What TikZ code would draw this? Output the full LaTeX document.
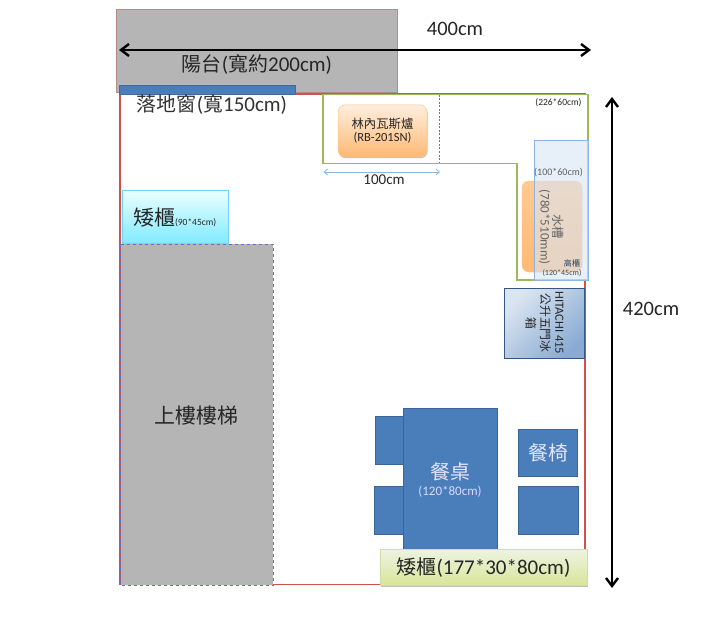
\documentclass[tikz,border=0pt]{standalone}
\usepackage{fontspec}
\setmainfont{Carlito}
\newfontfamily\cjk{Noto Sans CJK TC}[Scale=0.95]
\usetikzlibrary{arrows.meta,shadows}
\definecolor{roomred}{HTML}{D0504D}
\definecolor{cgreen}{HTML}{9BBB59}
\definecolor{wblue}{HTML}{4A7EBB}
\definecolor{lblue}{HTML}{8DB4E2}
\definecolor{txt}{HTML}{262626}
\tikzset{
  x=1pt,y=-1pt,
  lbl/.style={inner sep=0pt,text=txt,align=center},
  fs/.style={font=\fontsize{#1}{#1}\selectfont},
  bluebox/.style={fill=wblue,draw=wblue!80!black,line width=.6pt},
  grayblock/.style={fill=black!29},
  dimarrow/.style={line width=2.8pt,black,{Straight Barb[length=8pt,width=12pt,line width=2.4pt]}-{Straight Barb[length=8pt,width=12pt,line width=2.4pt]}},
  smallarrow/.style={line width=.8pt,lblue,{Straight Barb[length=3.5pt,width=6pt]}-{Straight Barb[length=3.5pt,width=6pt]}},
  softshadow/.style={drop shadow={shadow xshift=.6pt,shadow yshift=-1.2pt,opacity=.25,fill=black}},
  orangebox/.style={rounded corners=7pt,draw=orange!45!white,line width=.5pt,top color=orange!13!white,bottom color=orange!55!white,softshadow},
}
\begin{document}
\begin{tikzpicture}
\useasboundingbox (0,0) rectangle (720,623);
\fill[white] (0,0) rectangle (720,623);
% balcony and room
\draw[grayblock,draw=roomred!55!black!55,line width=1pt] (116.5,9.5) rectangle (397,93);
\fill[roomred] (119,93) rectangle (120.6,585);
\draw[roomred,line width=1.4pt] (119.8,94) rectangle (585,584.5);
\draw[fill=wblue,draw=wblue!85!black,line width=.6pt] (119,85) rectangle (295,94);
\node[lbl,fs=21] (balc) at (257,65) {{\cjk 陽台}({\cjk 寬約}200cm)};
\node[lbl,fs=21,text=black!80] (win) at (212,105) {{\cjk 落地窗}({\cjk 寬}150cm)};
% counter
\draw[fill=white,draw=cgreen,line width=1.1pt] (323,94.5) -- (588,94.5) -- (588,280) -- (517,280) -- (517,163.5) -- (323,163.5) -- cycle;
\coordinate (dashT) at (439.5,95);
\coordinate (dashB) at (439.5,163);
\draw[dashed,wblue!70!gray,line width=.5pt,dash pattern=on 2pt off 1.5pt] (dashT) -- (dashB);
\node[orangebox,minimum width=89pt,minimum height=52pt,inner sep=0pt] (stove) at (382.5,131) {};
\node[lbl,align=center] at (stove.center) {{\fontsize{13}{13}\selectfont\cjk 林內瓦斯爐}\\[1pt]{\fontsize{12.5}{12.5}\selectfont(RB-201SN)}};
\node[lbl,fs=9.5] (t226) at (558.5,103) {(226*60cm)};
\coordinate (a1) at (323.5,172);
\coordinate (a2) at (440,172);
\draw[smallarrow] (a1) -- (a2);
\node[lbl,fs=15] (l100) at (384,179.5) {100cm};
% sink
\node[rounded corners=7pt,draw=orange!45!white,line width=.5pt,top color=orange!42!white,bottom color=orange!55!white,minimum width=60pt,minimum height=91pt,inner sep=0pt] (sink) at (552,226.5) {};
% tall cabinet
\fill[lblue!35,opacity=.6] (534.5,140.5) rectangle (587.5,280);
\draw[lblue,line width=.9pt] (534.5,140.5) rectangle (588,280);
\node[lbl,fs=13,rotate=-90,text=black!60] (sinkt) at (551.5,227) {{\cjk 水槽}\\(780*510mm)};
\node[lbl,fs=10,text=black!62] (t100) at (558.5,173) {(100*60cm)};
\node[lbl,fs=8.5,text=wblue!50!black] (tall) at (572,263) {\cjk 高櫃};
\node[lbl,fs=8,text=black!70] (t120) at (562,273) {(120*45cm)};
% fridge
\node[draw=wblue!70!black,line width=1pt,inner sep=0pt,minimum width=80pt,minimum height=70pt,
  shading=axis,left color=wblue!20!white,right color=wblue!65!white,shading angle=45] (fridge) at (544.5,323) {};
\node[lbl,fs=12.5,rotate=-90,text=black!85] at (fridge.center) {HITACHI 415\\[2pt]{\cjk 公升五門冰}\\[2pt]{\cjk 箱}};
% low cabinet
\node[draw=cyan!55!white,line width=.5pt,inner sep=0pt,minimum width=106pt,minimum height=53pt,
  top color=cyan!8!white,bottom color=cyan!45!white!92!blue] (low1) at (175,216.5) {};
\node[lbl,anchor=west] at (133,217.5) {{\fontsize{22}{22}\selectfont\cjk 矮櫃}{\fontsize{9.5}{9.5}\selectfont (90*45cm)}};
% stairs
\draw[grayblock,draw=lblue!60!blue!70!gray,dashed,line width=.8pt] (120.5,244) rectangle (273,585);
\node[lbl,fs=22] (stair) at (196.5,416) {\cjk 上樓樓梯};
% table and chairs
\node[bluebox,minimum width=29pt,minimum height=48pt,inner sep=0pt] (c1) at (389.5,440) {};
\node[bluebox,minimum width=30pt,minimum height=48pt,inner sep=0pt] (c2) at (389,510) {};
\node[bluebox,minimum width=94pt,minimum height=141pt,inner sep=0pt] (table) at (450,478.5) {};
\node[lbl,fs=21,text=white!90!blue] at (450,472) {\cjk 餐桌};
\node[lbl,fs=13,text=white!85!blue] at (450,491.5) {(120*80cm)};
\node[bluebox,minimum width=59pt,minimum height=47pt,inner sep=0pt,font=\fontsize{21}{21}\selectfont\cjk,text=white!90!blue] (c3) at (548,453) {餐椅};
\node[bluebox,minimum width=60pt,minimum height=48pt,inner sep=0pt] (c4) at (548,510) {};
% bottom cabinet
\node[draw=cgreen!50!white,line width=.5pt,inner sep=0pt,minimum width=207pt,minimum height=36pt,
  top color=cgreen!18!white,bottom color=cgreen!45!white!85!yellow,softshadow,fs=21,text=txt] (low2) at (483.5,567.5) {{\cjk 矮櫃}(177*30*80cm)};
% dimensions
\coordinate (h1) at (119,50);
\coordinate (h2) at (591,50);
\draw[dimarrow] (h1) -- (h2);
\node[lbl,fs=20.5] (t400) at (455,28.5) {400cm};
\coordinate (v1) at (612,97);
\coordinate (v2) at (612,588);
\draw[dimarrow] (v1) -- (v2);
\node[lbl,fs=20.5] (t420) at (651,309) {420cm};
\end{tikzpicture}
\end{document}
